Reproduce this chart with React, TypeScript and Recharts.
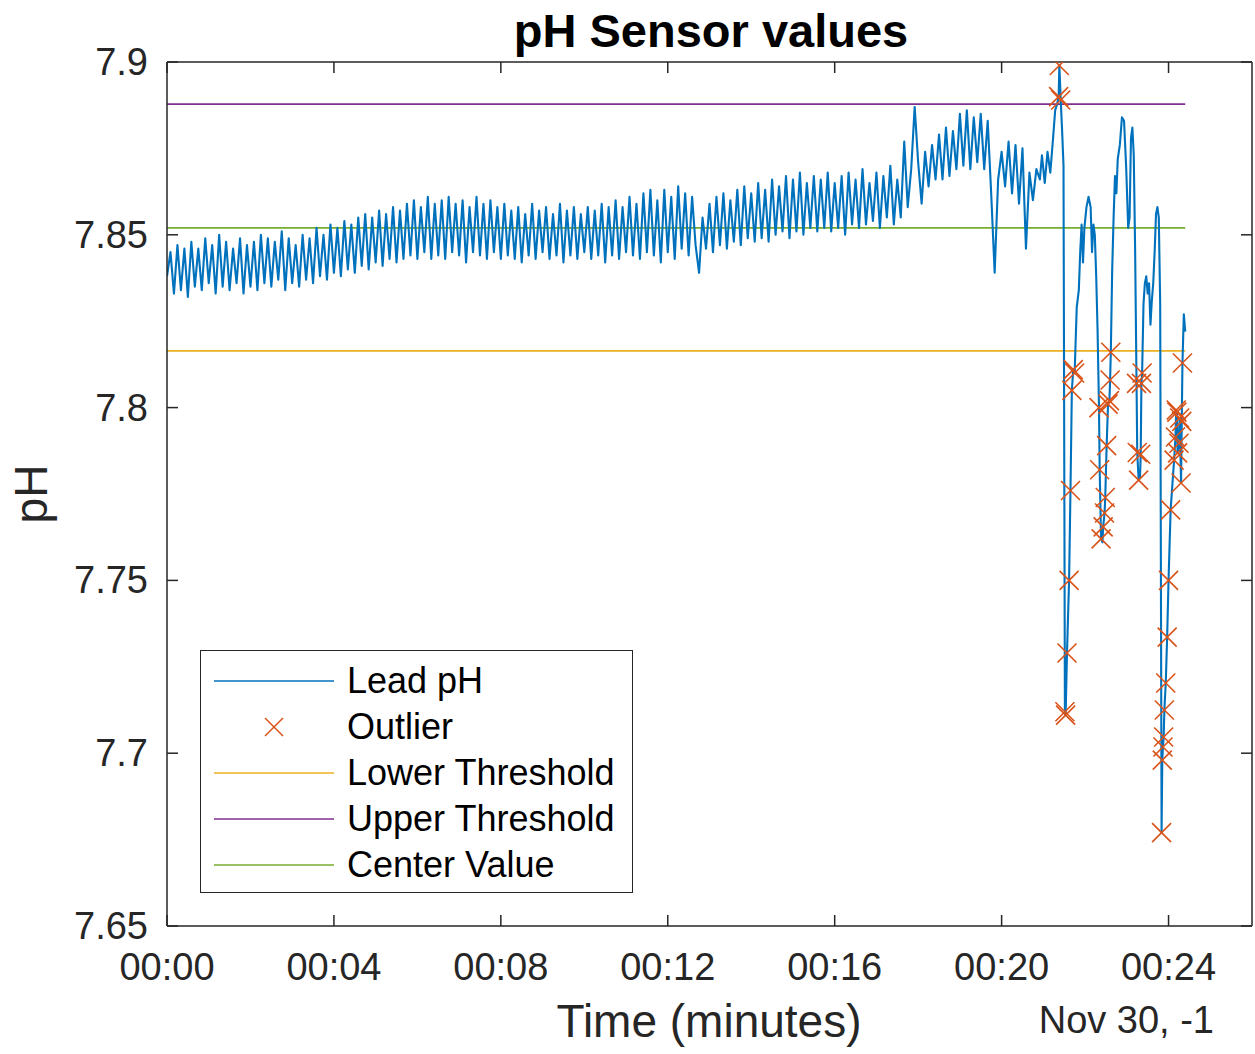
import React from "react";
import { ComposedChart, Line, Scatter, XAxis, YAxis, Legend } from "recharts";

const FONT = "'Liberation Sans', Arial, Helvetica, sans-serif";
const INK = "#262626";

// lead pH sampled every 5 s for the first ~21 minutes
const STEP = 5;
const leadValues = [
  7.838, 7.845, 7.833, 7.847, 7.834, 7.846, 7.832, 7.848, 7.835, 7.846,
  7.834, 7.849, 7.836, 7.847, 7.833, 7.850, 7.835, 7.848, 7.834, 7.846,
  7.836, 7.849, 7.833, 7.847, 7.835, 7.848, 7.834, 7.850, 7.836, 7.849,
  7.835, 7.848, 7.837, 7.851, 7.834, 7.849, 7.836, 7.847, 7.835, 7.850,
  7.837, 7.849, 7.836, 7.852, 7.838, 7.850, 7.837, 7.853, 7.839, 7.852,
  7.838, 7.854, 7.840, 7.853, 7.839, 7.855, 7.841, 7.856, 7.840, 7.855,
  7.842, 7.857, 7.841, 7.856, 7.843, 7.858, 7.842, 7.857, 7.843, 7.859,
  7.844, 7.860, 7.843, 7.858, 7.845, 7.861, 7.843, 7.859, 7.844, 7.860,
  7.843, 7.861, 7.845, 7.859, 7.844, 7.860, 7.842, 7.858, 7.845, 7.861,
  7.844, 7.859, 7.843, 7.860, 7.845, 7.858, 7.843, 7.859, 7.844, 7.857,
  7.843, 7.858, 7.842, 7.856, 7.844, 7.859, 7.843, 7.857, 7.845, 7.858,
  7.843, 7.856, 7.844, 7.859, 7.842, 7.857, 7.844, 7.858, 7.843, 7.856,
  7.845, 7.858, 7.843, 7.857, 7.844, 7.859, 7.842, 7.858, 7.844, 7.860,
  7.843, 7.858, 7.845, 7.861, 7.844, 7.859, 7.843, 7.862, 7.845, 7.863,
  7.844, 7.860, 7.842, 7.863, 7.845, 7.861, 7.843, 7.864, 7.846, 7.862,
  7.844, 7.861, 7.847, 7.839, 7.855, 7.846, 7.859, 7.845, 7.861, 7.847,
  7.862, 7.846, 7.860, 7.848, 7.863, 7.847, 7.864, 7.849, 7.862, 7.848,
  7.865, 7.849, 7.863, 7.848, 7.866, 7.850, 7.864, 7.851, 7.867, 7.849,
  7.866, 7.851, 7.868, 7.850, 7.865, 7.852, 7.867, 7.851, 7.866, 7.852,
  7.868, 7.851, 7.865, 7.852, 7.867, 7.850, 7.868, 7.853, 7.866, 7.852,
  7.869, 7.853, 7.865, 7.854, 7.868, 7.852, 7.867, 7.855, 7.870, 7.853,
  7.866, 7.855, 7.877, 7.858, 7.869, 7.887, 7.871, 7.859, 7.874, 7.864,
  7.876, 7.866, 7.879, 7.866, 7.881, 7.867, 7.880, 7.869, 7.885, 7.870,
  7.886, 7.869, 7.884, 7.871, 7.885, 7.869, 7.883, 7.862, 7.839, 7.866,
  7.874, 7.864, 7.877, 7.862, 7.876, 7.859, 7.875, 7.846, 7.868, 7.860,
  7.869,
];

// last few minutes, irregular samples (seconds, pH)
const tailTimes = [
  1255, 1258, 1262, 1266, 1270, 1274, 1277, 1280, 1282, 1283, 1285, 1287, 1289,
  1291, 1292, 1294, 1297, 1299, 1301, 1303, 1305, 1308, 1311, 1313, 1315, 1317,
  1319, 1322, 1325, 1328, 1330, 1332, 1334, 1336, 1338, 1340, 1341, 1343, 1345,
  1346, 1348, 1349, 1351, 1353, 1355, 1356, 1357, 1359, 1361, 1363, 1365, 1367,
  1370, 1373, 1376, 1379, 1382, 1384, 1386, 1388, 1390, 1392, 1394, 1395, 1397,
  1399, 1400, 1401, 1402, 1404, 1406, 1408, 1410, 1412, 1414, 1416, 1418, 1420,
  1422, 1424, 1426, 1428, 1430, 1431, 1432, 1433, 1434, 1436, 1438, 1440, 1443,
  1448, 1450, 1451, 1452, 1453, 1455, 1456, 1458, 1459, 1460, 1462, 1464,
];
const tailValues = [
  7.866, 7.873, 7.865, 7.874, 7.868, 7.878, 7.886, 7.888, 7.890, 7.899, 7.889, 7.880, 7.870,
  7.712, 7.711, 7.729, 7.750, 7.776, 7.805, 7.811, 7.810, 7.829, 7.834, 7.845, 7.853, 7.842,
  7.852, 7.858, 7.861, 7.858, 7.845, 7.853, 7.850, 7.838, 7.822, 7.800, 7.782, 7.762, 7.761,
  7.7655, 7.7695, 7.774, 7.789, 7.801, 7.802, 7.808, 7.816, 7.840, 7.855, 7.867, 7.862, 7.872,
  7.876, 7.884, 7.883, 7.870, 7.852, 7.855, 7.878, 7.881, 7.873, 7.845, 7.807, 7.787, 7.779,
  7.780, 7.7865, 7.807, 7.810, 7.830, 7.836, 7.838, 7.833, 7.836, 7.824, 7.831, 7.836, 7.845,
  7.856, 7.858, 7.855, 7.830, 7.677, 7.698, 7.7018, 7.7047, 7.7125, 7.7203, 7.7336, 7.750, 7.7704,
  7.7848, 7.7915, 7.7993, 7.7987, 7.7869, 7.7897, 7.797, 7.7782, 7.796, 7.8129, 7.827, 7.822,
];

const outlierTimes = [
  1282, 1283, 1285, 1291, 1292, 1294, 1297, 1299, 1301, 1303, 1305,
  1340, 1341, 1343, 1346, 1348, 1349, 1351, 1353, 1355, 1356, 1357,
  1394, 1395, 1397, 1400, 1401, 1402,
  1430, 1431, 1432, 1433, 1434, 1436, 1438, 1440, 1443, 1448, 1450, 1451, 1452,
  1453, 1455, 1456, 1458, 1459, 1460,
];
const outlierValues = [
  7.890, 7.899, 7.889, 7.712, 7.711, 7.729, 7.750, 7.776, 7.805, 7.811, 7.810,
  7.800, 7.782, 7.762, 7.7655, 7.7695, 7.774, 7.789, 7.801, 7.802, 7.808, 7.816,
  7.807, 7.787, 7.779, 7.7865, 7.807, 7.810,
  7.677, 7.698, 7.7018, 7.7047, 7.7125, 7.7203, 7.7336, 7.750, 7.7704, 7.7848, 7.7915, 7.7993, 7.7987,
  7.7869, 7.7897, 7.797, 7.7782, 7.796, 7.8129,
];

const LOWER = 7.8164;
const UPPER = 7.8878;
const CENTER = 7.852;
const END_T = 1464;

const xTicks = [0, 240, 480, 720, 960, 1200, 1440];
const yTicks = [7.65, 7.7, 7.75, 7.8, 7.85, 7.9];
const legendLabels = ["Lead pH", "Outlier", "Lower Threshold", "Upper Threshold", "Center Value"];

const COLORS = {
  lead: "#0072BD",
  outlier: "#D95319",
  lower: "#EDB120",
  upper: "#7E2F8E",
  center: "#77AC30",
};
const legendColors = [COLORS.lead, COLORS.outlier, COLORS.lower, COLORS.upper, COLORS.center];

const leadData = [
  ...leadValues.map((v, i) => ({ t: i * STEP, v })),
  ...tailTimes.map((t, i) => ({ t, v: tailValues[i] })),
];
const outlierData = outlierTimes.map((t, i) => ({ t, v: outlierValues[i] }));
const flat = (v: number) => [
  { t: 0, v },
  { t: END_T, v },
];

const fmtTime = (t: number) => "00:" + String(Math.round(t / 60)).padStart(2, "0");

const XTick = (props: any) => (
  <text x={props.x} y={props.y} dy={27} textAnchor="middle" fill={INK} fontSize={38} fontFamily={FONT}>
    {fmtTime(props.payload.value)}
  </text>
);

const YTick = (props: any) => (
  <text x={props.x} y={props.y} dy={13} textAnchor="end" fill={INK} fontSize={38} fontFamily={FONT}>
    {String(props.payload.value)}
  </text>
);

const NoTick = () => <g />;

const Cross = (props: any) => {
  const { cx, cy } = props;
  if (cx == null || cy == null) return <g />;
  const r = 9.5;
  return (
    <path
      d={`M${cx - r},${cy - r}L${cx + r},${cy + r}M${cx - r},${cy + r}L${cx + r},${cy - r}`}
      stroke={COLORS.outlier}
      strokeWidth={1.6}
      fill="none"
    />
  );
};

const LegendBox = () => (
  <div
    style={{
      position: "relative",
      width: 433,
      height: 243,
      boxSizing: "border-box",
      border: `1.5px solid ${INK}`,
      background: "#fff",
      fontFamily: FONT,
    }}
  >
    {legendLabels.map((label, k) => (
      <div
        key={label}
        style={{ position: "absolute", left: 0, top: 7 + 46 * k, height: 46, width: 430 }}
      >
        <svg width={130} height={46} style={{ position: "absolute", left: 13, top: 0 }}>
          {k === 1 ? (
            <path d="M51,14L69,32M51,32L69,14" stroke={legendColors[k]} strokeWidth={1.5} />
          ) : (
            <line x1={0} x2={120} y1={23} y2={23} stroke={legendColors[k]} strokeWidth={1.6} />
          )}
        </svg>
        <span
          style={{
            position: "absolute",
            left: 146,
            top: 0,
            lineHeight: "46px",
            fontSize: 36,
            color: "#000",
            whiteSpace: "nowrap",
          }}
        >
          {label}
        </span>
      </div>
    ))}
  </div>
);

export default function App() {
  const axisStroke = { stroke: INK, strokeWidth: 1.5 };
  return (
    <div style={{ position: "absolute", left: 0, top: 0, width: 1255, height: 1054, background: "#fff" }}>
      <ComposedChart width={1255} height={1054} margin={{ top: 61, right: 2, bottom: 68, left: 107 }}>
        <XAxis
          xAxisId="b"
          dataKey="t"
          type="number"
          domain={[0, 1560]}
          ticks={xTicks}
          allowDataOverflow
          height={60}
          tickSize={-11}
          tickMargin={38}
          tick={XTick}
          axisLine={axisStroke}
          tickLine={axisStroke}
        />
        <XAxis
          xAxisId="top"
          orientation="top"
          dataKey="t"
          type="number"
          domain={[0, 1560]}
          ticks={xTicks}
          allowDataOverflow
          height={1}
          tickSize={-11}
          tick={NoTick}
          axisLine={axisStroke}
          tickLine={axisStroke}
        />
        <YAxis
          yAxisId="l"
          type="number"
          domain={[7.65, 7.9]}
          ticks={yTicks}
          allowDataOverflow
          width={60}
          tickSize={-11}
          tickMargin={30}
          tick={YTick}
          axisLine={axisStroke}
          tickLine={axisStroke}
        />
        <YAxis
          yAxisId="r"
          orientation="right"
          type="number"
          domain={[7.65, 7.9]}
          ticks={yTicks}
          allowDataOverflow
          width={1}
          tickSize={-11}
          tick={NoTick}
          axisLine={axisStroke}
          tickLine={axisStroke}
        />
        {/* invisible series so the top/right box axes get drawn */}
        <Line
          xAxisId="top"
          yAxisId="r"
          data={flat(CENTER)}
          dataKey="v"
          stroke="none"
          dot={false}
          legendType="none"
          isAnimationActive={false}
        />
        <Line
          xAxisId="b"
          yAxisId="l"
          data={flat(LOWER)}
          dataKey="v"
          stroke={COLORS.lower}
          strokeWidth={1.6}
          dot={false}
          isAnimationActive={false}
        />
        <Line
          xAxisId="b"
          yAxisId="l"
          data={flat(UPPER)}
          dataKey="v"
          stroke={COLORS.upper}
          strokeWidth={1.6}
          dot={false}
          isAnimationActive={false}
        />
        <Line
          xAxisId="b"
          yAxisId="l"
          data={flat(CENTER)}
          dataKey="v"
          stroke={COLORS.center}
          strokeWidth={1.6}
          dot={false}
          isAnimationActive={false}
        />
        <Line
          xAxisId="b"
          yAxisId="l"
          data={leadData}
          dataKey="v"
          type="linear"
          stroke={COLORS.lead}
          strokeWidth={2.1}
          strokeLinejoin="round"
          dot={false}
          isAnimationActive={false}
        />
        <Scatter
          xAxisId="b"
          yAxisId="l"
          data={outlierData}
          dataKey="v"
          shape={Cross}
          isAnimationActive={false}
        />
        <Legend
          layout="horizontal"
          verticalAlign="middle"
          align="center"
          content={LegendBox}
          wrapperStyle={{ left: 200, top: 650, width: 433, height: 243 }}
        />
      </ComposedChart>
      <svg
        width={1255}
        height={1054}
        style={{ position: "absolute", left: 0, top: 0, pointerEvents: "none" }}
      >
        <text x={711} y={47} textAnchor="middle" fontSize={47} fontWeight="bold" fill="#000" fontFamily={FONT}>
          pH Sensor values
        </text>
        <text x={709} y={1037} textAnchor="middle" fontSize={46} fill={INK} fontFamily={FONT}>
          Time (minutes)
        </text>
        <text x={1214} y={1033} textAnchor="end" fontSize={38} fill={INK} fontFamily={FONT}>
          Nov 30, -1
        </text>
        <text
          x={47}
          y={494}
          transform="rotate(-90 47 494)"
          textAnchor="middle"
          fontSize={46}
          fill={INK}
          fontFamily={FONT}
        >
          pH
        </text>
      </svg>
    </div>
  );
}
